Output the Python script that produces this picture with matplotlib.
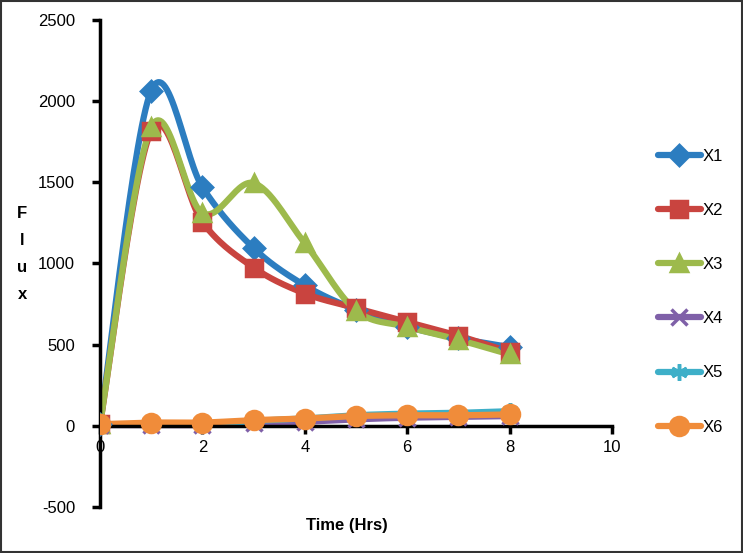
import numpy as np
import matplotlib
matplotlib.use('Agg')
import matplotlib.pyplot as plt

plt.rcParams['font.family'] = ['Liberation Sans', 'DejaVu Sans']
plt.rcParams['axes.unicode_minus'] = False

# data
time_hrs = [0, 1, 2, 3, 4, 5, 6, 7, 8]
x1 = [10, 2065, 1470, 1095, 865, 715, 610, 540, 485]
x2 = [10, 1815, 1255, 975, 815, 725, 640, 555, 455]
x3 = [10, 1840, 1310, 1495, 1125, 710, 610, 530, 440]
x4 = [5, 5, 5, 15, 25, 40, 50, 55, 60]
x5 = [5, 10, 10, 30, 45, 65, 75, 80, 90]
x6 = [10, 20, 20, 35, 45, 60, 65, 65, 70]
series_names = ['X1', 'X2', 'X3', 'X4', 'X5', 'X6']
series = [x1, x2, x3, x4, x5, x6]
colors = ['#2C7DC0', '#C9443F', '#9DBA4C', '#7F60A8', '#3EAFC8', '#F08C3A']
markers = ['D', 's', '^', 'x', (6, 2, 0), 'o']
msizes = [10, 12, 12, 11, 12, 13]


def smooth(xs, ys, n=30):
    # excel style smoothed line (catmull-rom through the points)
    xs = np.asarray(xs, float)
    ys = np.asarray(ys, float)
    px = np.concatenate([[xs[0]], xs, [xs[-1]]])
    py = np.concatenate([[ys[0]], ys, [ys[-1]]])
    t = np.linspace(0, 1, n)
    outx, outy = [], []
    for i in range(1, len(px) - 2):
        for p, out in ((px, outx), (py, outy)):
            p0, p1, p2, p3 = p[i - 1], p[i], p[i + 1], p[i + 2]
            c1 = p1 + (p2 - p0) / 6.0
            c2 = p2 - (p3 - p1) / 6.0
            out.extend((1 - t) ** 3 * p1 + 3 * (1 - t) ** 2 * t * c1
                       + 3 * (1 - t) * t ** 2 * c2 + t ** 3 * p2)
    return np.array(outx), np.array(outy)


fig = plt.figure(figsize=(7.43, 5.53), dpi=100)
ax = fig.add_axes([0.1346, 0.0832, 0.689, 0.8807])

handles = []
for name, ys, c, m, ms in zip(series_names, series, colors, markers, msizes):
    sx, sy = smooth(time_hrs, ys)
    ax.plot(sx, sy, color=c, lw=4.5, solid_capstyle='round', zorder=2)
    ax.plot(time_hrs, ys, ls='none', marker=m, ms=ms, color=c,
            mec=c, mew=2.5, zorder=3)
    h, = ax.plot([], [], color=c, lw=4.5, marker=m, ms=ms, mec=c, mew=2.5,
                 solid_capstyle='round')
    handles.append(h)

ax.set_xlim(0, 10)
ax.set_ylim(-500, 2500)
ax.set_xticks([0, 2, 4, 6, 8, 10])
ax.set_yticks([-500, 0, 500, 1000, 1500, 2000, 2500])

ax.spines['left'].set_position(('data', 0))
ax.spines['bottom'].set_position(('data', 0))
ax.spines['top'].set_visible(False)
ax.spines['right'].set_visible(False)
for s in ('left', 'bottom'):
    ax.spines[s].set_linewidth(2.5)
ax.tick_params(axis='both', direction='out', length=6, width=2.5,
               labelsize=12)
ax.tick_params(axis='y', pad=12)
ax.tick_params(axis='x', pad=4)

fig.text(0.467, 0.05, 'Time (Hrs)', fontsize=12, fontweight='bold',
         ha='center', va='center')
fig.text(0.03, 0.54, 'F\nl\nu\nx', fontsize=12, fontweight='bold',
         ha='center', va='center', linespacing=2.0)

leg = fig.legend(handles, series_names, loc='upper left',
                 bbox_to_anchor=(0.865, 0.758), frameon=False,
                 fontsize=12, handlelength=2.6, labelspacing=2.35,
                 handletextpad=0.1)

# outer frame
fig.patches.append(plt.Rectangle((0.002, 0.002), 0.996, 0.996,
                                 transform=fig.transFigure, fill=False,
                                 edgecolor='#333333', lw=1.5))

fig.savefig('out.png', dpi=100)
